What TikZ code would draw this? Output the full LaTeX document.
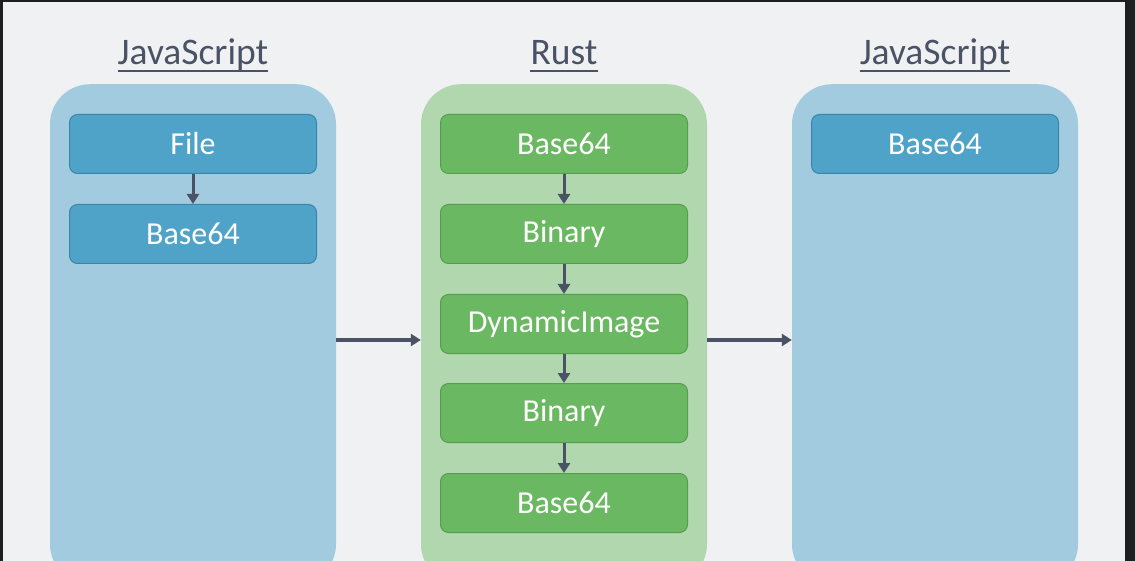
\documentclass[tikz,border=0pt]{standalone}
\usepackage{fontspec}
\setmainfont{Carlito}
\usetikzlibrary{arrows.meta}
\definecolor{bg}{HTML}{F0F1F3}
\definecolor{frame}{HTML}{1E1F21}
\definecolor{bluepanel}{HTML}{A3CBDF}
\definecolor{bluebox}{HTML}{4FA3C9}
\definecolor{blueedge}{HTML}{3C84A8}
\definecolor{greenpanel}{HTML}{B0D7AE}
\definecolor{greenbox}{HTML}{6BB862}
\definecolor{greenedge}{HTML}{559E4D}
\definecolor{ink}{HTML}{4A5266}
\tikzset{
  panel/.style={rounded corners=40pt, minimum width=286pt, minimum height=500pt, anchor=north, inner sep=0pt},
  bluepan/.style={panel, fill=bluepanel},
  greenpan/.style={panel, fill=greenpanel},
  stepbox/.style={rounded corners=8pt, minimum width=247pt, minimum height=59pt, inner sep=0pt, line width=1pt, text=white, font=\fontsize{32}{36}\selectfont},
  bbox/.style={stepbox, fill=bluebox, draw=blueedge},
  gbox/.style={stepbox, fill=greenbox, draw=greenedge},
  title/.style={text=ink, font=\fontsize{37.5}{42}\selectfont, inner sep=0pt, anchor=base},
  flow/.style={draw=ink, line width=3.5pt, -{Triangle[length=10pt,width=12pt]}},
  link/.style={draw=ink, line width=3pt, -{Triangle[length=10pt,width=12pt]}}
}
\begin{document}
\begin{tikzpicture}[x=1pt,y=-1pt]
\useasboundingbox (0,0) rectangle (1135,561);
\clip (0,0) rectangle (1135,561);
\fill[frame] (0,0) rectangle (1135,561);
\fill[bg] (3,2) rectangle (1125,561);
% panels
\node[bluepan] (pl) at (193,84) {};
\node[greenpan] (pm) at (564,84) {};
\node[bluepan] (pr) at (935,84) {};
% titles
\node[title] (tl) at (193,65) {JavaScript};
\node[title] (tm) at (564,65) {Rust};
\node[title] (tr) at (935,65) {JavaScript};
\foreach \t in {tl,tm,tr}{\draw[ink, line width=1.8pt] ([yshift=-6pt]\t.base west) -- ([yshift=-6pt]\t.base east);}
% left boxes
\node[bbox] (l1) at (193,144) {File};
\node[bbox] (l2) at (193,234) {Base64};
% middle boxes
\node[gbox] (m1) at (564,144) {Base64};
\node[gbox] (m2) at (564,234) {Binary};
\node[gbox] (m3) at (564,324) {DynamicImage};
\node[gbox] (m4) at (564,413) {Binary};
\node[gbox] (m5) at (564,503) {Base64};
% right box
\node[bbox] (r1) at (935,144) {Base64};
% inner arrows
\draw[link] (l1) -- (l2);
\draw[link] (m1) -- (m2);
\draw[link] (m2) -- (m3);
\draw[link] (m3) -- (m4);
\draw[link] (m4) -- (m5);
% panel arrows
\draw[flow] (pl.east |- 0,340) -- (pm.west |- 0,340);
\draw[flow] (pm.east |- 0,340) -- (pr.west |- 0,340);
\end{tikzpicture}
\end{document}
